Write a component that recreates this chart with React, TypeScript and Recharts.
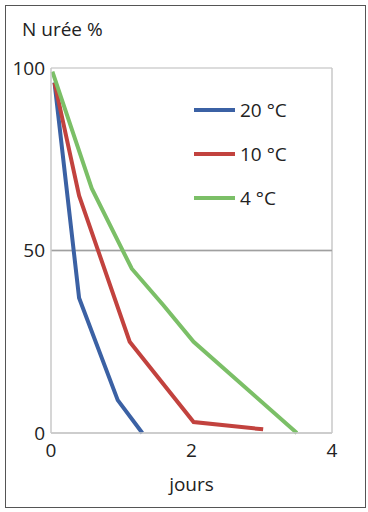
import React from 'react';
import {
  LineChart,
  Line,
  XAxis,
  YAxis,
  CartesianGrid,
  ReferenceLine
} from 'recharts';

// days / remaining urea N (%)
const days20 = [0.05, 0.4, 0.95, 1.3];
const urea20 = [96, 37, 9, 0];

const days10 = [0.05, 0.4, 1.12, 2.03, 3.02];
const urea10 = [96, 65, 25, 3, 1];

const days4 = [0.02, 0.58, 1.15, 1.6, 2.03, 3.5];
const urea4 = [99, 67, 45, 35, 25, 0];

const seriesNames = ['20 °C', '10 °C', '4 °C'];
const seriesColors = ['#3b61a4', '#c2423e', '#7bbf67'];

const xTicks = [0, 2, 4];
const yTicks = [0, 50, 100];

const toPoints = (xs: number[], ys: number[]) => xs.map((x, i) => ({ x, y: ys[i] }));

const series = [
  toPoints(days20, urea20),
  toPoints(days10, urea10),
  toPoints(days4, urea4)
];

const FONT = '"Open Sans", sans-serif';

// Legend drawn as short thick lines followed by the label (kept outside the chart so it
// doesn't eat into the plot area)
const LegendBox = () => (
  <div
    style={{
      position: 'absolute',
      left: 194,
      top: 88,
      fontFamily: FONT,
      fontSize: 19,
      color: '#222'
    }}
  >
    {seriesNames.map((name, i) => (
      <div key={name} style={{ display: 'flex', alignItems: 'center', height: 44 }}>
        <div style={{ width: 41, height: 4, background: seriesColors[i], marginRight: 5 }} />
        <span>{name}</span>
      </div>
    ))}
  </div>
);

const App: React.FC = () => {
  const tickStyle = { fill: '#222', fontSize: 19, fontFamily: FONT };

  return (
    <div style={{ position: 'absolute', left: 0, top: 0, width: 368, height: 512, background: '#fff' }}>
      <div
        style={{
          position: 'absolute',
          left: 5,
          top: 5,
          width: 359,
          height: 501,
          border: '1px solid #555'
        }}
      />
      <div
        style={{
          position: 'absolute',
          left: 22,
          top: 16,
          fontFamily: FONT,
          fontSize: 19,
          color: '#222'
        }}
      >
        N urée %
      </div>
      <div style={{ position: 'absolute', left: 0, top: 0 }}>
        <LineChart
          width={368}
          height={512}
          margin={{ top: 68, right: 36, left: 11, bottom: 19 }}
        >
          <CartesianGrid vertical={false} stroke="#d0d0d0" strokeWidth={1.5} />
          <XAxis
            type="number"
            dataKey="x"
            domain={[0, 4]}
            ticks={xTicks}
            height={60}
            tick={tickStyle}
            tickLine={false}
            tickSize={4}
            tickMargin={7}
            axisLine={{ stroke: '#c8c8c8', strokeWidth: 1.5 }}
            label={{
              value: 'jours',
              position: 'insideBottom',
              offset: 2,
              style: { fill: '#222', fontSize: 19, fontFamily: FONT }
            }}
          />
          <YAxis
            type="number"
            domain={[0, 100]}
            ticks={yTicks}
            width={40}
            tick={tickStyle}
            tickLine={false}
            tickSize={4}
            tickMargin={2}
            axisLine={{ stroke: '#c8c8c8', strokeWidth: 1.5 }}
          />
          <ReferenceLine x={4} stroke="#c8c8c8" strokeWidth={1.5} />
          <ReferenceLine y={50} stroke="#a0a0a0" strokeWidth={1.5} />
          {series.map((pts, i) => (
            <Line
              key={seriesNames[i]}
              data={pts}
              dataKey="y"
              name={seriesNames[i]}
              type="linear"
              stroke={seriesColors[i]}
              strokeWidth={4}
              dot={false}
              activeDot={false}
              isAnimationActive={false}
            />
          ))}
        </LineChart>
      </div>
      <LegendBox />
    </div>
  );
};

export default App;
